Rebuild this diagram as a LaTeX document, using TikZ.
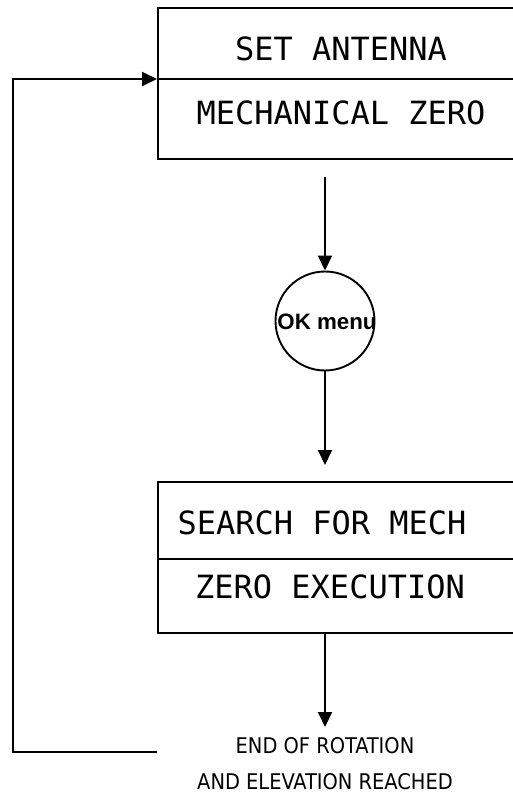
\documentclass[tikz,border=0pt]{standalone}
\usepackage{fontspec}
\setmainfont{DejaVu Sans}
\newfontfamily\boxfont{DejaVu Sans Mono}
\newfontfamily\okfont{Liberation Sans}
\newfontfamily\endfont{DejaVu Sans Condensed}
\usetikzlibrary{arrows.meta}
\begin{document}
\begin{tikzpicture}[x=1pt,y=-1pt, line width=1.9pt,
  arr/.style={-{Triangle[length=15pt,width=14pt]}},
  box/.style={draw, rectangle, inner sep=0pt, minimum width=363pt, minimum height=151pt, anchor=north west},
  boxtext/.style={font=\fontsize{32}{36}\selectfont\boxfont, inner sep=0pt},
  oktext/.style={font=\okfont\bfseries\fontsize{22.3}{26}\selectfont, inner sep=0pt},
  endtext/.style={font=\endfont\fontsize{21.6}{35.5}\selectfont, inner sep=0pt, align=center, anchor=north},
]
\useasboundingbox (0,0) rectangle (512,794);
% box 1
\node[box] (box1) at (157,7) {};
\draw (box1.west |- 0,79) -- (box1.east |- 0,79);
\node[boxtext] (t1) at (341,49) {SET ANTENNA};
\node[boxtext] (t2) at (341,113) {MECHANICAL ZERO};
% circle
\node[draw, circle, minimum size=99pt, inner sep=0pt] (ok) at (325,321) {};
\node[oktext] (okt) at (327,322) {OK menu};
% box 2
\node[box] (box2) at (157,481) {};
\draw (box2.west |- 0,559) -- (box2.east |- 0,559);
\node[boxtext] (t3) at (322,523) {SEARCH FOR MECH};
\node[boxtext] (t4) at (330,587) {ZERO EXECUTION};
% end text
\node[endtext] (end) at (325,737) {END OF ROTATION\\AND ELEVATION REACHED};
% connectors
\draw[arr] ([yshift=-17pt]box1.south -| ok) -- (ok.north);
\draw[arr, shorten >=16pt] (ok.south) -- (ok.south |- box2.north);
\draw[arr, shorten >=10pt] (box2.south -| ok) -- (end.north -| ok);
\coordinate (fb) at (157,752);
\coordinate (corner) at (13,79);
\draw[arr] (fb) -| (corner) -- (box1.west |- corner);
\end{tikzpicture}
\end{document}
